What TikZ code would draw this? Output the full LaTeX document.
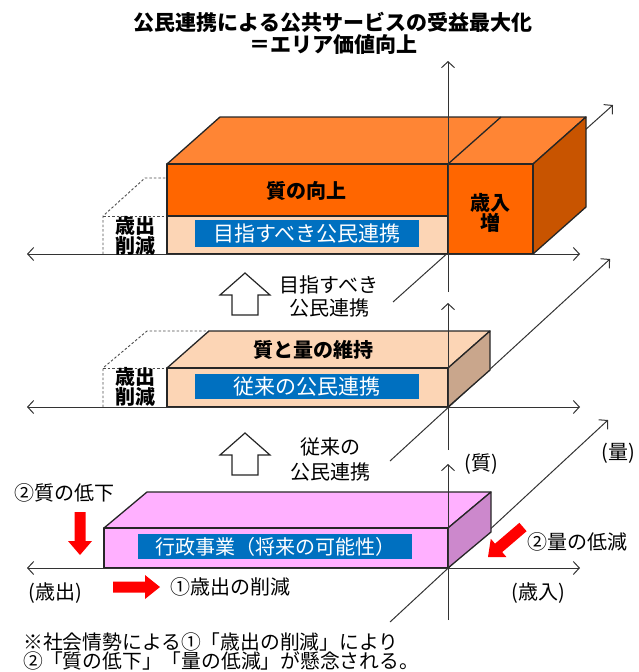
\documentclass[tikz,border=0pt]{standalone}
\usepackage{fontspec}
\setmainfont{Noto Sans CJK JP}
\usetikzlibrary{arrows.meta}
\definecolor{orgF}{HTML}{FF6600}
\definecolor{orgT}{HTML}{FF8534}
\definecolor{orgR}{HTML}{C85400}
\definecolor{peach}{HTML}{FCD5B5}
\definecolor{tan}{HTML}{C9A68C}
\definecolor{pinkF}{HTML}{FFB0FF}
\definecolor{pinkR}{HTML}{CC88CC}
\definecolor{blueL}{HTML}{0070C0}
\definecolor{redA}{HTML}{FF0000}
\begin{document}
\begin{tikzpicture}[x=1pt,y=-1pt,
  diag/.style={draw=black!80,line width=1pt,-{Straight Barb[length=6pt,width=13pt]}},
  vaxis/.style={draw=black!80,line width=1pt,-{Straight Barb[length=6pt,width=13pt]}},
  haxis/.style={draw=black!80,line width=1pt,{Straight Barb[length=6pt,width=13pt]}-{Straight Barb[length=6pt,width=13pt]}},
  boxline/.style={draw=black!85,line width=1.3pt,line join=round},
  dashline/.style={draw=black!70,line width=0.9pt,dash pattern=on 2.5pt off 2pt},
  bluebox/.style={fill=blueL,text=white,inner sep=0pt,font=\fontsize{21}{24}\selectfont},
  lbl/.style={inner sep=0pt,font=\fontsize{20}{22}\selectfont,align=center},
  blbl/.style={inner sep=0pt,font=\bfseries\fontsize{20}{20}\selectfont,align=center},
  hollow/.style={draw=black!85,fill=white,line width=1.2pt,line join=miter},
  redarrow/.style={fill=redA,draw=none}]
\useasboundingbox (0,0) rectangle (639,672);

% diagonal axes (behind boxes)
\coordinate (d1s) at (393,302); \coordinate (d1e) at (613,105);
\coordinate (d2s) at (390,461); \coordinate (d2e) at (610,259);
\coordinate (d3s) at (390,622); \coordinate (d3e) at (608,420);
\draw[diag] (d1s) -- (d1e);
\draw[diag] (d2s) -- (d2e);
\draw[diag] (d3s) -- (d3e);

% ---------- top panel ----------
\draw[dashline] (103,254) -- (103,216) -- (145,178) -- (167,178);
\draw[dashline] (103,216) -- (167,216);
\filldraw[boxline,fill=orgT] (167,164) -- (220,117) -- (586,117) -- (533,164) -- cycle;
\draw[boxline] (448,164) -- (501,117);
\filldraw[boxline,fill=orgR] (533,164) -- (586,117) -- (586,207) -- (533,254) -- cycle;
\filldraw[boxline,fill=orgF] (167,164) rectangle (448,216);
\filldraw[boxline,fill=peach] (167,216) rectangle (448,254);
\filldraw[boxline,fill=orgF] (448,164) rectangle (533,254);
\node[bluebox,minimum width=224pt,minimum height=27pt] (b1) at (307,233.5) {目指すべき公民連携};

% ---------- middle panel ----------
\draw[dashline] (103,407) -- (103,368) -- (147,331) -- (209,331);
\draw[dashline] (103,368) -- (167,368);
\filldraw[boxline,fill=peach] (167,368) -- (209,331) -- (490,331) -- (448,368) -- cycle;
\filldraw[boxline,fill=tan] (448,368) -- (490,331) -- (490,370) -- (448,407) -- cycle;
\filldraw[boxline,fill=peach] (167,368) rectangle (448,407);
\node[bluebox,minimum width=224pt,minimum height=25pt] (b2) at (307,386.5) {従来の公民連携};

% ---------- bottom panel ----------
\filldraw[boxline,fill=pinkF] (104,528) -- (147,492) -- (491,492) -- (448,528) -- cycle;
\filldraw[boxline,fill=pinkR] (448,528) -- (491,492) -- (491,532) -- (448,568) -- cycle;
\filldraw[boxline,fill=pinkF] (104,528) rectangle (448,568);
\node[bluebox,minimum width=274pt,minimum height=25pt,font=\fontsize{20}{24}\selectfont] (b3) at (275,546.5) {行政事業（将来の可能性）};

% vertical and horizontal axes (in front)
\coordinate (v1s) at (448,292); \coordinate (v1e) at (448,61);
\coordinate (v2s) at (448,450); \coordinate (v2e) at (448,303);
\coordinate (v3s) at (448,620); \coordinate (v3e) at (448,464);
\draw[vaxis] (v1s) -- (v1e);
\draw[vaxis] (v2s) -- (v2e);
\draw[vaxis] (v3s) -- (v3e);
\coordinate (h1l) at (27,254); \coordinate (h1r) at (580,254);
\coordinate (h2l) at (27,407); \coordinate (h2r) at (580,407);
\coordinate (h3l) at (27,568); \coordinate (h3r) at (580,568);
\draw[haxis] (h1l) -- (h1r);
\draw[haxis] (h2l) -- (h2r);
\draw[haxis] (h3l) -- (h3r);

% ---------- texts ----------
\node[blbl,font=\bfseries\fontsize{21}{22}\selectfont] (title) at (333,33) {公民連携による公共サービスの受益最大化\\＝エリア価値向上};
\node[blbl] (q1) at (306,191) {質の向上};
\node[blbl] (inc) at (490,213) {歳入\\増};
\node[blbl] (cut1) at (135,236) {歳出\\削減};
\node[blbl] (q2) at (313,350) {質と量の維持};
\node[blbl] (cut2) at (135,387) {歳出\\削減};

\node[lbl,font=\fontsize{20}{23}\selectfont] (lab1) at (329,296.5) {目指すべき\\公民連携};
\node[lbl,font=\fontsize{20}{25}\selectfont] (lab2) at (330,459.5) {従来の\\公民連携};

% hollow up arrows
\draw[hollow] (245,273) -- (270,295) -- (258,295) -- (258,315) -- (232,315) -- (232,295) -- (220,295) -- cycle;
\draw[hollow] (245,433) -- (270,455) -- (258,455) -- (258,475) -- (232,475) -- (232,455) -- (220,455) -- cycle;

% bottom labels
\node[lbl] (deg) at (64,493) {②質の低下};
\node[lbl,anchor=west] (cut3) at (170,587) {①歳出の削減};
\node[lbl,anchor=west] (qty) at (527,542) {②量の低減};
\node[lbl] (yq) at (481,464) {(質)};
\node[lbl] (zq) at (618,453) {(量)};
\node[lbl] (xr) at (538,593) {(歳入)};
\node[lbl] (xl) at (55,593) {(歳出)};

% red arrows
\fill[redarrow] (74.5,512) -- (85.5,512) -- (85.5,541) -- (92,541) -- (80,555) -- (68,541) -- (74.5,541) -- cycle;
\fill[redarrow] (113,581.5) -- (145,581.5) -- (145,575) -- (160,587) -- (145,599) -- (145,592.5) -- (113,592.5) -- cycle;
\fill[redarrow] (526.6,531.2) -- (502.2,552.1) -- (506.4,557.0) -- (488,557) -- (490.8,538.8) -- (495.0,543.7) -- (519.4,522.8) -- cycle;

% note
\node[lbl,anchor=west,font=\fontsize{19.8}{20}\selectfont] (note1) at (23,642) {※社会情勢による①「歳出の削減」により};
\node[lbl,anchor=west,font=\fontsize{19.8}{20}\selectfont] (note2) at (23,661) {②「質の低下」「量の低減」が懸念される。};
\end{tikzpicture}
\end{document}
